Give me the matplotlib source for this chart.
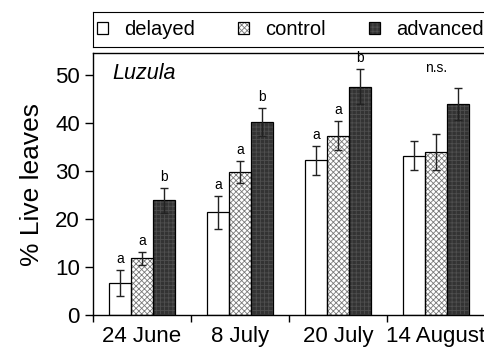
import matplotlib
matplotlib.use("Agg")
import matplotlib.pyplot as plt
import numpy as np

plt.rcParams["font.family"] = ["Liberation Sans", "DejaVu Sans"]
plt.rcParams["hatch.linewidth"] = 0.6

dates = ["24 June", "8 July", "20 July", "14 August"]
treatments = ["delayed", "control", "advanced"]

delayed = [6.7, 21.4, 32.2, 33.2]
control = [11.8, 29.8, 37.4, 34.0]
advanced = [23.9, 40.2, 47.6, 44.0]

delayed_err = [2.7, 3.4, 3.0, 3.0]
control_err = [1.3, 2.2, 3.0, 3.7]
advanced_err = [2.6, 3.0, 3.6, 3.3]

letters = [["a", "a", "b"], ["a", "a", "b"], ["a", "a", "b"], ["", "", ""]]
group_note = ["", "", "", "n.s."]


def main():
    fig = plt.figure(figsize=(4.84, 3.5), dpi=100)
    ax = fig.add_axes([93 / 484, 35 / 350, 392 / 484, 262 / 350])

    series = [delayed, control, advanced]
    errors = [delayed_err, control_err, advanced_err]
    styles = [
        {"facecolor": "white", "hatch": None, "hatchcolor": "black"},
        {"facecolor": "white", "hatch": "xxxxxx", "hatchcolor": "#7a7a7a"},
        {"facecolor": "#333333", "hatch": "++++", "hatchcolor": "#4f4f4f"},
    ]

    x = np.arange(len(dates))
    width = 0.224
    handles = []
    for i, (vals, errs, st) in enumerate(zip(series, errors, styles)):
        pos = x + (i - 1) * width
        fill = ax.bar(pos, vals, width, color=st["facecolor"], hatch=st["hatch"],
                      edgecolor=st["hatchcolor"], linewidth=0, zorder=2)
        border = ax.bar(pos, vals, width, fill=False, edgecolor="black",
                        linewidth=0.9, zorder=3)
        ax.errorbar(pos, vals, yerr=errs, fmt="none", ecolor="#222222",
                    elinewidth=1, capsize=3, capthick=1, zorder=4)
        for j in range(len(dates)):
            if letters[j][i]:
                ax.text(pos[j], vals[j] + errs[j] + 2.3, letters[j][i],
                        ha="center", va="center", fontsize=10)
        handles.append((fill[0], border[0]))

    for j, note in enumerate(group_note):
        if note:
            ax.text(x[j], 51.5, note, ha="center", va="center", fontsize=10)

    ax.text(-0.3, 50.4, "Luzula", fontstyle="italic", fontsize=15.5,
            ha="left", va="center")

    ax.set_xlim(-0.5, 3.5)
    ax.set_ylim(0, 54.6)
    ax.set_yticks([0, 10, 20, 30, 40, 50])
    ax.tick_params(axis="y", labelsize=16, length=6, width=1, direction="out")
    ax.set_xticks(np.arange(len(dates) + 1) - 0.5)
    ax.set_xticklabels([])
    ax.tick_params(axis="x", which="major", length=5, width=1, direction="out")
    ax.set_xticks(x, minor=True)
    ax.set_xticklabels(dates, minor=True, fontsize=16)
    ax.tick_params(axis="x", which="minor", length=0, pad=8)
    ax.set_ylabel("% Live leaves", fontsize=19, labelpad=8)
    ax.spines["right"].set_visible(False)
    for sp in ["left", "bottom", "top"]:
        ax.spines[sp].set_linewidth(1)

    # legend strip above the plot
    lax = fig.add_axes([93 / 484, 303 / 350, 392 / 484, 35 / 350])
    lax.set_xticks([])
    lax.set_yticks([])
    lax.spines["right"].set_visible(False)
    lax.legend(handles, treatments, loc="center left", ncol=3,
               frameon=False, fontsize=14.5, handlelength=0.55,
               handleheight=0.55, handletextpad=0.8, columnspacing=2.15,
               borderaxespad=0.0, borderpad=0.0, bbox_to_anchor=(0.01, 0.5))

    fig.savefig("out.png", dpi=100)


if __name__ == "__main__":
    main()
